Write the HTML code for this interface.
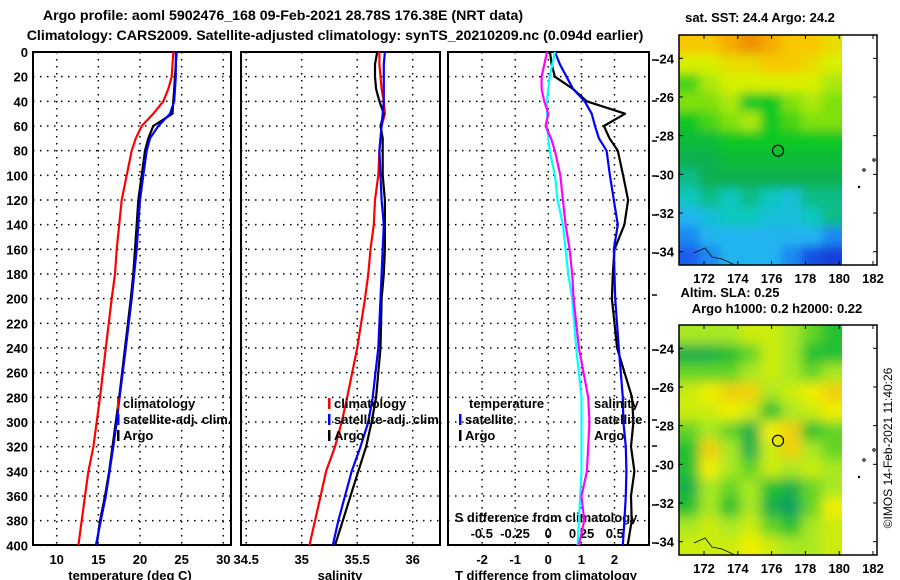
<!DOCTYPE html>
<html><head><meta charset="utf-8">
<style>
html,body{margin:0;padding:0;background:#fff;}
svg{display:block;font-family:"Liberation Sans",sans-serif;font-weight:bold;}
text{font-size:13px;fill:#000;}
.ttl{font-size:14.2px;}
</style></head>
<body>
<svg id="chart" width="900" height="580" viewBox="0 0 900 580">
<defs>
<clipPath id="c1"><rect x="33" y="52" width="198" height="493"/></clipPath>
<clipPath id="c2"><rect x="241" y="52" width="199" height="493"/></clipPath>
<clipPath id="c3"><rect x="448" y="52" width="201" height="493"/></clipPath>
<clipPath id="m1c"><rect x="679" y="35" width="163" height="230"/></clipPath>
<clipPath id="m2c"><rect x="679" y="325" width="163" height="230"/></clipPath>
<filter id="bl1" x="-10%" y="-10%" width="120%" height="120%"><feGaussianBlur stdDeviation="5"/></filter>
<filter id="bl2" x="-10%" y="-10%" width="120%" height="120%"><feGaussianBlur stdDeviation="6"/></filter>
</defs>
<text class="ttl" x="283" y="20" text-anchor="middle">Argo profile: aoml 5902476_168 09-Feb-2021 28.78S 176.38E (NRT data)</text>
<text class="ttl" x="335" y="40" text-anchor="middle">Climatology: CARS2009. Satellite-adjusted climatology: synTS_20210209.nc (0.094d earlier)</text>
<g id="g"></g>
</svg>
<script>
// ---- data ----
const depths = [0,10,20,30,40,50,60,70,80,100,120,140,160,180,200,240,280,300,320,340,360,380,400];
const tempClim = [24.0,23.9,23.8,23.4,22.8,21.6,20.2,19.5,19.0,18.4,17.8,17.5,17.2,17.0,16.6,15.9,15.2,14.8,14.4,13.8,13.4,13.0,12.6];
const tempSat  = [24.3,24.3,24.3,24.2,24.1,23.6,22.2,21.2,20.8,20.4,20.0,19.8,19.6,19.3,19.0,18.3,17.55,17.2,16.8,16.35,15.9,15.3,14.7];
const tempArgo = [24.4,24.3,24.2,24.1,24.0,23.9,21.6,21.0,20.6,20.2,19.8,19.6,19.4,19.2,18.9,18.2,17.5,17.1,16.7,16.3,15.8,15.2,14.8];
const salClim = [35.70,35.70,35.71,35.72,35.74,35.75,35.72,35.71,35.70,35.69,35.66,35.65,35.62,35.60,35.57,35.50,35.41,35.36,35.30,35.22,35.17,35.12,35.07];
const salSat  = [35.75,35.74,35.74,35.74,35.74,35.73,35.72,35.71,35.70,35.71,35.72,35.74,35.73,35.72,35.71,35.69,35.64,35.60,35.53,35.45,35.39,35.33,35.28];
const salArgo = [35.68,35.66,35.66,35.67,35.70,35.74,35.71,35.73,35.73,35.73,35.75,35.75,35.75,35.74,35.72,35.71,35.67,35.63,35.58,35.51,35.44,35.37,35.30];
const tdSat  = [0.2,0.35,0.55,0.75,1.1,1.31,1.41,1.53,1.76,1.86,1.98,2.1,1.98,2.0,2.02,2.13,2.25,2.27,2.34,2.36,2.34,2.3,2.25];
const tdArgo = [0.05,0.1,0.2,0.75,1.16,2.32,1.68,1.85,2.1,2.26,2.41,2.3,2.0,1.95,1.92,2.08,2.53,2.57,2.5,2.6,2.5,2.52,2.4];
const sdSat  = [0.05,0.03,0.01,0.0,-0.01,-0.01,-0.01,0.0,0.01,0.05,0.07,0.11,0.13,0.15,0.18,0.21,0.25,0.25,0.25,0.25,0.24,0.23,0.22];
const sdArgo = [-0.01,-0.03,-0.05,-0.05,-0.03,0.0,-0.02,0.02,0.05,0.09,0.11,0.13,0.16,0.18,0.19,0.23,0.3,0.31,0.3,0.29,0.25,0.27,0.23];
const depthTicks = [0,20,40,60,80,100,120,140,160,180,200,220,240,260,280,300,320,340,360,380,400];
const tempTicks = [10,15,20,25,30];
const salTicks = [34.5,35,35.5,36];
const salTickLabels = ['34.5','35','35.5','36'];
const tdTicks = [-2,-1,0,1,2];
const sdTicks = [-0.5,-0.25,0,0.25,0.5];
const sdTickLabels = ['-0.5','-0.25','0','0.25','0.5'];
const latTicks = [-24,-26,-28,-30,-32,-34];
const lonTicks = [172,174,176,178,180,182];
const sstGrid = [
[8,8,8.5,9,8.5,8,8,7.5],[7,7,7.5,7.5,8,8,7.5,7],[5.5,6.5,7,7,7,7,7,6.5],[6,6,6.5,5,5,6,6.5,6],
[5,5.5,6,6.5,5,5.5,6,6],[4.5,4.5,5,5,5,5,5,5],[4,4,4.5,4.5,4.5,4.5,4.5,4.5],[3.5,4,4,4,4,4,4,4],
[3,3.5,3,3.5,3,2.5,3.5,3.5],[2,2.5,3,3,2.5,2.5,3,3.5],[1.5,2,2,2,2,2,2,1.5],[1,1.5,2,2,2,1.5,0.8,0.5]];
const slaGrid = [
[2,2,2,2.5,2.5,2,1.5,1],[0.5,0.5,1,1.5,2.5,2,1,1],[1.5,1.5,1.5,2,2.5,2,1.5,2],[2.5,3,3.5,3.5,2,2.5,3,3.5],
[2.5,2.5,3,2.5,1,2,2.5,3],[1.5,2,1.5,0.5,3,3.5,1,1.5],[1,3.5,2,0.5,2.5,3.5,2,1.5],[1,3,2,1.5,2.5,2,2.5,2],
[0.5,2,1.5,2,1,0.5,1.5,2],[1,2,1,2,0.5,0,1.5,3],[2,2.5,2,2.5,1.5,1,2,2.5],[2.5,2.5,2.5,3,2.5,2,2,2.5]];

// ---- scales ----
const yD = d => 52 + d*1.2333;
const xT = t => 56.7 + (t-10)*8.33;
const xS = s => 301.7 + (s-35)*111;
const xTD = v => 548.3 + v*33.1;
const xSD = s => 548.3 + s*133;
const latY1 = l => 58.3 + (-24-l)*19.34;
const latY2 = l => 348.3 + (-24-l)*19.34;
const lonX = l => 704 + (l-172)*16.9;

const NS='http://www.w3.org/2000/svg';
const g=document.getElementById('g');
function el(tag,attrs,parent){const e=document.createElementNS(NS,tag);for(const k in attrs)e.setAttribute(k,attrs[k]);(parent||g).appendChild(e);return e;}
function txt(x,y,s,anchor,parent){const t=el('text',{x:x,y:y,'text-anchor':anchor||'middle'},parent);t.textContent=s;return t;}

const panels=[{x:33,w:198,clip:'c1'},{x:241,w:199,clip:'c2'},{x:448,w:201,clip:'c3'}];
panels.forEach((p,i)=>{
  const pg=el('g',{});
  
  
  depthTicks.forEach(d=>{
    const l=el('line',{x1:p.x,x2:p.x+p.w,y1:yD(d),y2:yD(d),stroke:'#000','stroke-width':1.5,'stroke-dasharray':'1.5,5.5'},pg);
    
    
  });
  const vt = i===0?tempTicks.map(xT):i===1?salTicks.map(xS):tdTicks.map(xTD);
  vt.forEach(x=>{
    const l=el('line',{x1:x,x2:x,y1:52,y2:545,stroke:'#000','stroke-width':1.5,'stroke-dasharray':'1.5,5.5'},pg);
    
    
  });
  const r=el('rect',{x:p.x,y:52,width:p.w,height:493,fill:'none',stroke:'#000','stroke-width':2},pg);
  
  
});
depthTicks.forEach(d=>{
  const t=txt(28,yD(d)+5,String(d),'end');
  
  
});
tempTicks.forEach(v=>{const t=txt(xT(v),564,String(v));});
salTicks.forEach((v,i)=>{const t=txt(xS(v),564,salTickLabels[i]);});
tdTicks.forEach(v=>{const t=txt(xTD(v),564,String(v));});
sdTicks.forEach((v,i)=>{const t=txt(xSD(v),538,sdTickLabels[i]);});
[[130,'temperature (deg C)','temperature-axis-title'],[340,'salinity','salinity-axis-title'],[546,'T difference from climatology','t-diff-axis-title']].forEach(a=>{
  const t=txt(a[0],580,a[1]);
});
{const t=txt(546,522,'S difference from climatology');}
[60,101,141,176,215,253,295,350,389,420,446,471,505,543].forEach(y=>{
  const l=el('line',{x1:652,x2:657,y1:y,y2:y,stroke:'#000','stroke-width':1.5});
  
  
});

function series(vals,xf,color,clip,name,w){
  const pts=vals.map((v,i)=>xf(v).toFixed(1)+','+yD(depths[i]).toFixed(1)).join(' ');
  const pl=el('polyline',{points:pts,fill:'none',stroke:color,'stroke-width':w||2.2,'clip-path':'url(#'+clip+')','stroke-linejoin':'round'});
  
  
}
series(tempClim,xT,'#f00','c1','temperature-climatology-line');
series(tempArgo,xT,'#000','c1','temperature-argo-line');
series(tempSat,xT,'#00f','c1','temperature-satellite-line');
series(salClim,xS,'#f00','c2','salinity-climatology-line');
series(salArgo,xS,'#000','c2','salinity-argo-line');
series(salSat,xS,'#00f','c2','salinity-satellite-line');
series(tdArgo,xTD,'#000','c3','t-diff-argo-line');
series(tdSat,xTD,'#00f','c3','t-diff-satellite-line');
series(sdSat,xSD,'#0ff','c3','s-diff-satellite-line');
series(sdArgo,xSD,'#f0f','c3','s-diff-argo-line');

function legend(x,y,color,label,name){
  if(color){const m=el('rect',{x:x,y:y-10,width:2.5,height:11,fill:color});}
  const t=txt(x+6,y,label,'start');
}
legend(117,408,'#f00','climatology','legend-climatology');
legend(117,424,'#00f','satellite-adj. clim.','legend-satellite');
legend(117,440,'#000','Argo','legend-argo');
legend(328,408,'#f00','climatology','legend-sal-climatology');
legend(328,424,'#00f','satellite-adj. clim.','legend-sal-satellite');
legend(328,440,'#000','Argo','legend-sal-argo');
legend(463,408,null,'temperature','legend-temperature');
legend(459,424,'#00f','satellite','legend-t-satellite');
legend(459,440,'#000','Argo','legend-t-argo');
legend(588,408,null,'salinity','legend-salinity');
legend(588,424,null,'satellite','legend-s-satellite');
legend(588,440,null,'Argo','legend-s-argo');

// ---- maps ----
const sstColors=['#0a1fc0','#1a5ef0','#22b4f0','#10c8c0','#10b050','#10c820','#80e010','#d8f000','#f8c800','#f09000'];
const slaColors=['#10a060','#20c030','#a8e820','#f0f000','#f0b020'];
function lerpCol(cols,v){const i=Math.max(0,Math.min(cols.length-1.001,v));const a=Math.floor(i),f=i-a;
  const c1=cols[a],c2=cols[a+1];const p=(c,k)=>parseInt(c.substr(1+2*k,2),16);
  return 'rgb('+[0,1,2].map(k=>Math.round(p(c1,k)*(1-f)+p(c2,k)*f)).join(',')+')';}
function heat(grid,cols,top,clip,filt,name){
  const mg=el('g',{'clip-path':'url(#'+clip+')'});
  
  
  const inner=el('g',{filter:'url(#'+filt+')'},mg);
  const cw=163/grid[0].length,ch=230/grid.length;
  grid.forEach((row,r)=>row.forEach((v,c)=>{
    const x=679+c*cw-(c===0?12:0),y=top+r*ch-(r===0?12:0);
    const w=cw+0.6+(c===0?12:0)+(c===row.length-1?12:0),h=ch+0.6+(r===0?12:0)+(r===grid.length-1?12:0);
    const cell=el('rect',{x:x,y:y,width:w,height:h,fill:lerpCol(cols,v)},inner);
    
    
  }));
}
heat(sstGrid,sstColors,35,'m1c','bl1','sst-map');
heat(slaGrid,slaColors,325,'m2c','bl2','sla-map');
[[35,latY1,'sst'],[325,latY2,'sla']].forEach(m=>{
  const [top,yf,nm]=m;
  const fr=el('rect',{x:679,y:top,width:198,height:230,fill:'none',stroke:'#000','stroke-width':1.5});
  
  latTicks.forEach(l=>{
    const t=txt(674,yf(l)+5,String(l),'end');
    el('line',{x1:679,x2:683,y1:yf(l),y2:yf(l),stroke:'#000'});el('line',{x1:873,x2:877,y1:yf(l),y2:yf(l),stroke:'#000'});
  });
  lonTicks.forEach(l=>{
    const t=txt(lonX(l),top+248,String(l));
    el('line',{x1:lonX(l),x2:lonX(l),y1:top,y2:top+4,stroke:'#000'});el('line',{x1:lonX(l),x2:lonX(l),y1:top+226,y2:top+230,stroke:'#000'});
  });
  const c=el('circle',{cx:lonX(176.38),cy:yf(-28.78),r:5.5,fill:'none',stroke:'#000','stroke-width':1.2});
  
  el('path',{d:`M694 ${top+218} L705 ${top+213} L712 ${top+222} L722 ${top+224} L735 ${top+230}`,fill:'none',stroke:'#000','stroke-width':0.8,'clip-path':'url(#'+(nm==='sst'?'m1c':'m2c')+')'});
  el('circle',{cx:874,cy:top+125,r:1.2,fill:'none',stroke:'#000'});
  el('circle',{cx:864,cy:top+135,r:1.2,fill:'none',stroke:'#000'});
  el('circle',{cx:859,cy:top+152,r:1.2,fill:'#000'});
});
{const t=txt(760,22,'sat. SST: 24.4 Argo: 24.2');}
{const t=txt(730,297,'Altim. SLA: 0.25');}
{const t=txt(777,313,'Argo h1000: 0.2 h2000: 0.22');}
{const t=el('text',{x:0,y:0,'text-anchor':'middle',transform:'translate(892,448) rotate(-90)',style:'font-weight:normal;font-size:12px'});
 t.textContent='©IMOS 14-Feb-2021 11:40:26';
 }
</script>
</body></html>
